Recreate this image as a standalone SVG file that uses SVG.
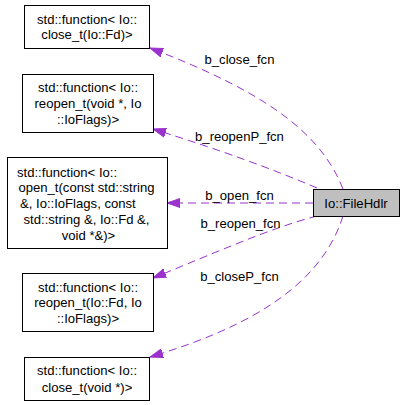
<svg xmlns="http://www.w3.org/2000/svg" width="405" height="405" viewBox="0 0 405 405">
<defs>
<style>
.box{fill:#ffffff;stroke:#000000;stroke-width:1}
.cur{fill:#bfbfbf;stroke:#000000;stroke-width:1}
.t{font-family:"Liberation Sans",Arial,sans-serif;font-size:13.1px;fill:#000000;text-anchor:middle}
.ts{font-family:"Liberation Sans",Arial,sans-serif;font-size:13.1px;fill:#000000;text-anchor:start}
.lbl{font-family:"Liberation Sans",Arial,sans-serif;font-size:13.1px;fill:#000000;text-anchor:middle}
.e{fill:none;stroke:#9a32cd;stroke-width:1;stroke-dasharray:8,5}
</style>
<marker id="arr" markerWidth="14" markerHeight="10" refX="13" refY="5" orient="auto" markerUnits="userSpaceOnUse">
<path d="M0,0.5 L13,5 L0,9.5 Z" fill="#9a32cd" stroke="#9a32cd" stroke-width="1" stroke-dasharray="none"/>
</marker>
</defs>
<rect width="405" height="405" fill="#ffffff"/>
<g id="edges">
<path class="e" d="M343,189 C320,130 260,90 150,48" marker-end="url(#arr)"/>
<path class="e" d="M317,188 C270,168 220,150 153,129" marker-end="url(#arr)"/>
<path class="e" d="M313,203 L167,203" marker-end="url(#arr)"/>
<path class="e" d="M317,216 C270,228 210,255 153,278" marker-end="url(#arr)"/>
<path class="e" d="M343,216 C320,290 240,330 150,357" marker-end="url(#arr)"/>
<text class="lbl" x="239.5" y="64">b_close_fcn</text>
<text class="lbl" x="239.5" y="141">b_reopenP_fcn</text>
<text class="lbl" x="239.5" y="200">b_open_fcn</text>
<text class="lbl" x="240.5" y="228">b_reopen_fcn</text>
<text class="lbl" x="239.5" y="281">b_closeP_fcn</text>
</g>
<g id="node_filehdlr">
<rect class="cur" x="313.5" y="189.5" width="86" height="27"/>
<text class="t" x="356" y="207.5">Io::FileHdlr</text>
</g>
<g id="node_close_fd">
<rect class="box" x="24.5" y="5.5" width="125" height="43"/>
<text class="t" x="87" y="23.5">std::function&lt; Io::</text>
<text class="t" x="87" y="38.5">close_t(Io::Fd)&gt;</text>
</g>
<g id="node_reopen_void">
<rect class="box" x="22.5" y="74.5" width="131" height="58"/>
<text class="t" x="88" y="91.5">std::function&lt; Io::</text>
<text class="t" x="88" y="107.5">reopen_t(void *, Io</text>
<text class="t" x="88" y="123.5">::IoFlags)&gt;</text>
</g>
<g id="node_open">
<rect class="box" x="7.5" y="157.5" width="160" height="91"/>
<text class="ts" x="17" y="176.5">std::function&lt; Io::</text>
<text class="t" x="86.5" y="191.5">open_t(const std::string</text>
<text class="ts" x="20" y="207.5">&amp;, Io::IoFlags, const</text>
<text class="t" x="86.5" y="223.5">std::string &amp;, Io::Fd &amp;,</text>
<text class="t" x="88.5" y="239.5">void *&amp;)&gt;</text>
</g>
<g id="node_reopen_fd">
<rect class="box" x="22.5" y="273.5" width="131" height="58"/>
<text class="t" x="88" y="291.5">std::function&lt; Io::</text>
<text class="t" x="88" y="306.5">reopen_t(Io::Fd, Io</text>
<text class="t" x="88" y="322.5">::IoFlags)&gt;</text>
</g>
<g id="node_close_void">
<rect class="box" x="24.5" y="357.5" width="125" height="43"/>
<text class="t" x="87" y="374.5">std::function&lt; Io::</text>
<text class="t" x="87" y="391.5">close_t(void *)&gt;</text>
</g>
</svg>
